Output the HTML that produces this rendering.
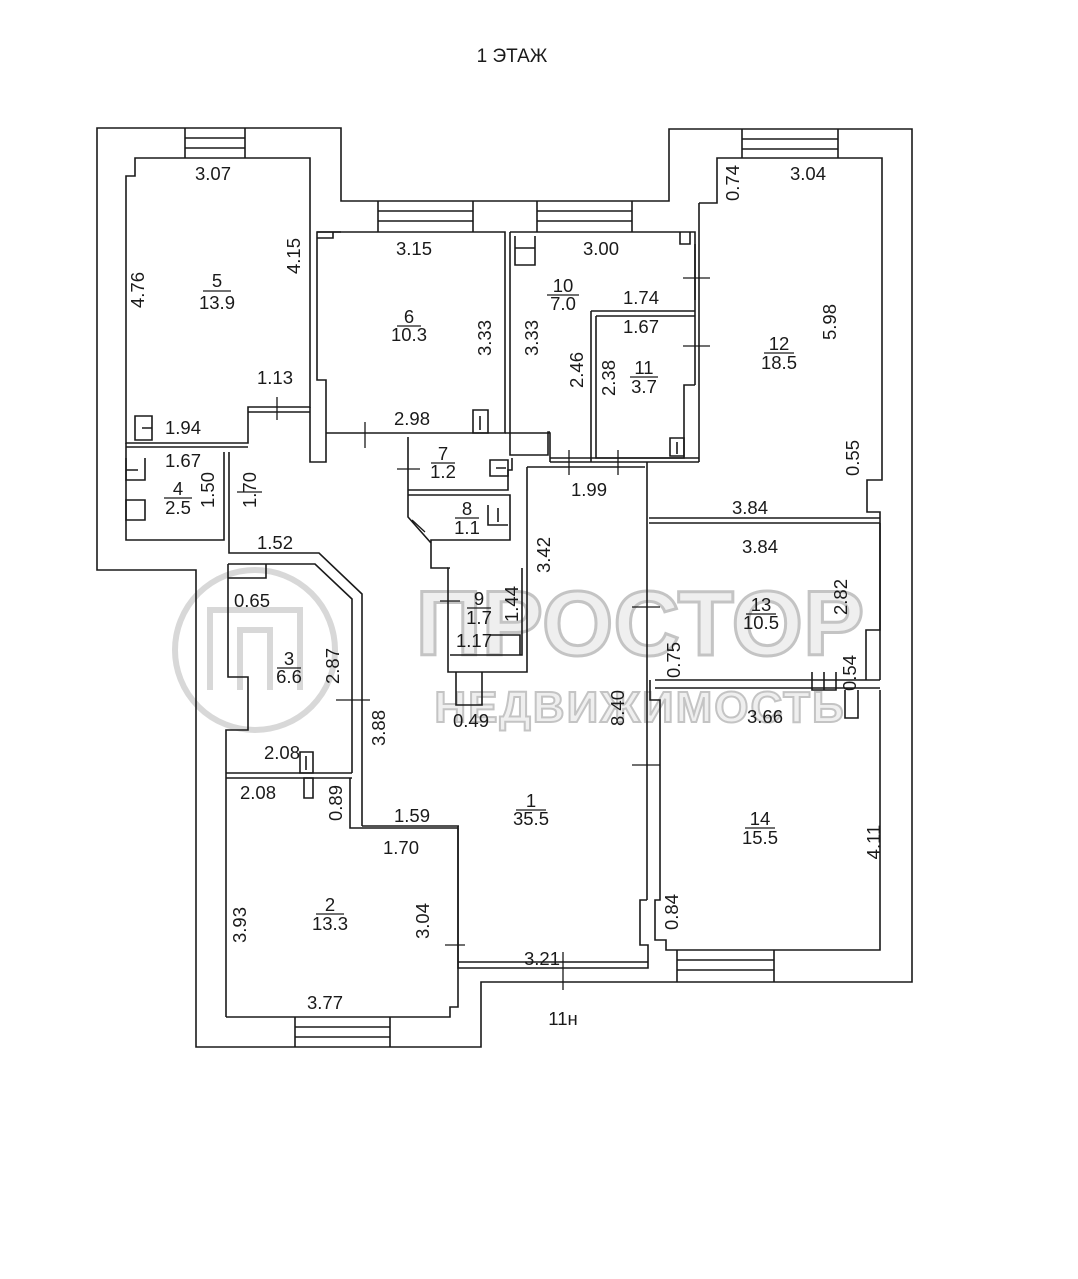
<!DOCTYPE html>
<html><head><meta charset="utf-8"><style>
html,body{margin:0;padding:0;background:#fff;}
svg{display:block;}
text{font-family:"Liberation Sans",sans-serif;fill:#1a1a1a;}
.d{font-size:18.5px;text-anchor:middle;}
</style></head><body>
<svg width="1078" height="1279" viewBox="0 0 1078 1279" xmlns="http://www.w3.org/2000/svg">
<rect width="1078" height="1279" fill="#fff"/>
<!-- watermark -->
<g fill="none" stroke="#cfcfcf" stroke-width="6" opacity="0.8">
<circle cx="255" cy="650" r="80"/>
<path d="M210 690 V610 H300 V690 M240 690 V630 H270 V690"/>
</g>
<text x="640" y="655" font-size="92" text-anchor="middle" stroke="#c4c4c4" stroke-width="3" style="font-family:'Liberation Sans',sans-serif;font-weight:bold;fill:#efefef">ПРОСТОР</text>
<text x="640" y="722" font-size="44" text-anchor="middle" stroke="#c4c4c4" stroke-width="2" style="font-family:'Liberation Sans',sans-serif;font-weight:bold;fill:#efefef;letter-spacing:2px">НЕДВИЖИМОСТЬ</text>

<g fill="none" stroke="#1a1a1a" stroke-width="1.6">
<path d="M97 128 H341 V201 H669 V129 H912 V982 H481 V1047 H196 V570 H97 Z"/>
<path d="M185 128 V158 M245 128 V158 M185 138 H245 M185 148 H245"/>
<path d="M378 201 V232 M473 201 V232 M378 211 H473 M378 221 H473"/>
<path d="M537 201 V232 M632 201 V232 M537 211 H632 M537 221 H632"/>
<path d="M742 129 V158 M838 129 V158 M742 139 H838 M742 149 H838"/>
<path d="M295 1017 V1047 M390 1017 V1047 M295 1027 H390 M295 1037 H390"/>
<path d="M677 950 V982 M774 950 V982 M677 960 H774 M677 970 H774"/>
<path d="M135 158 H310 V407 H248 V443 H126 V176 H135 Z"/>
<path d="M310 407 V462 H326 V380 H317 V232 H341"/>
<path d="M248 412 H310 M135 416 V440 H152 V416 Z M152 428 H142"/>
<path d="M317 232 H505 V433 H326 M505 232 V433 M510 232 V433 M510 232 H695 V300"/>
<path d="M317 238 H333 V232" />
<path d="M473 410 V433 H488 V410 Z M480 416 V430"/>
<path d="M515 236 V265 H535 V236 M515 248 H535"/>
<path d="M680 232 V244 H690 V232"/>
<path d="M591 311 H695 M596 316 H695 M591 311 V462 M596 316 V458 H684 V385 H695 M695 244 V385"/>
<path d="M670 438 V456 H684 V438 Z M677 442 V454"/>
<path d="M550 432 H548 V455 H510 V433 M505 433 H550 V462 M550 458 H699 M550 462 H699"/>
<path d="M699 203 H717 V158 H882 V480 H867 V512 H880 V680"/>
<path d="M699 203 V462 M647 462 V900"/>
<path d="M649 518 H880 M649 523 H880"/>
<path d="M126 443 V540 H224 V452 M229 452 V553 H319 L362 594 V826"/>
<path d="M126 447 H248 M229 447 H248"/>
<path d="M126 458 V480 H145 V458 M126 470 H138 M126 500 V520 H145 V500 Z"/>
<path d="M228 564 H315 L352 599 V773 M228 564 V677 H248 V730 H226 V1017"/>
<path d="M228 578 H266 V564"/>
<path d="M226 773 H352 M226 778 H352"/>
<path d="M300 752 V773 H313 V752 Z M306 756 V770"/>
<path d="M304 778 V798 H313 V778 Z"/>
<path d="M350 778 V828 H458 V1007 H450 V1017 H226 M362 826 H459"/>
<path d="M458 826 V968 H648 V945 H640 V900 H647"/>
<path d="M458 962 H648 M527 467 H645 M527 467 V672 H448 V568 H450 M522 568 V655 H450"/>
<path d="M456 672 V705 H482 V672 M490 635 H520 V655"/>
<path d="M408 437 V490 H508 V470 H512 V458 M408 495 H510 V540 H431 V568 H448 M408 490 V517 L431 543"/>
<path d="M490 460 V476 H508 V460 Z M496 468 H506"/>
<path d="M488 505 V525 H508 M498 508 V522"/>
<path d="M880 523 V630 H866 V680"/>
<path d="M655 680 H880 M655 688 H880"/>
<path d="M650 680 V700 H660 V900 H655 V940 H666 V950 H880 V690"/>
<path d="M812 672 V690 H836 V672 M824 672 V690 M845 690 V718 H858 V690"/>
</g>
<g stroke="#1a1a1a" stroke-width="1.3">
<path d="M277 397 V420 M365 422 V448 M397 469 H420 M412 520 L425 532 M440 601 H460 M569 450 V475 M618 450 V475 M683 278 H710 M683 346 H710 M632 607 H660 M336 700 H370 M632 765 H660 M445 945 H465 M563 952 V990 M237 492 H262"/>
</g>

<text x="512" y="62" font-size="19" text-anchor="middle">1 ЭТАЖ</text>
<g class="d">
<text class="d" x="213" y="180">3.07</text>
<text class="d" x="414" y="255">3.15</text>
<text class="d" x="601" y="255">3.00</text>
<text class="d" x="808" y="180">3.04</text>
<text class="d" x="275" y="384">1.13</text>
<text class="d" x="183" y="434">1.94</text>
<text class="d" x="183" y="467">1.67</text>
<text class="d" x="275" y="549">1.52</text>
<text class="d" x="412" y="425">2.98</text>
<text class="d" x="641" y="304">1.74</text>
<text class="d" x="641" y="333">1.67</text>
<text class="d" x="589" y="496">1.99</text>
<text class="d" x="750" y="514">3.84</text>
<text class="d" x="760" y="553">3.84</text>
<text class="d" x="252" y="607">0.65</text>
<text class="d" x="474" y="647">1.17</text>
<text class="d" x="471" y="727">0.49</text>
<text class="d" x="765" y="723">3.66</text>
<text class="d" x="282" y="759">2.08</text>
<text class="d" x="258" y="799">2.08</text>
<text class="d" x="412" y="822">1.59</text>
<text class="d" x="401" y="854">1.70</text>
<text class="d" x="542" y="965">3.21</text>
<text class="d" x="325" y="1009">3.77</text>
<text class="d" x="563" y="1025">11н</text>
<text class="d" transform="translate(144,290) rotate(-90)">4.76</text>
<text class="d" transform="translate(300,256) rotate(-90)">4.15</text>
<text class="d" transform="translate(491,338) rotate(-90)">3.33</text>
<text class="d" transform="translate(538,338) rotate(-90)">3.33</text>
<text class="d" transform="translate(583,370) rotate(-90)">2.46</text>
<text class="d" transform="translate(615,378) rotate(-90)">2.38</text>
<text class="d" transform="translate(739,183) rotate(-90)">0.74</text>
<text class="d" transform="translate(836,322) rotate(-90)">5.98</text>
<text class="d" transform="translate(859,458) rotate(-90)">0.55</text>
<text class="d" transform="translate(214,490) rotate(-90)">1.50</text>
<text class="d" transform="translate(256,490) rotate(-90)">1.70</text>
<text class="d" transform="translate(550,555) rotate(-90)">3.42</text>
<text class="d" transform="translate(518,604) rotate(-90)">1.44</text>
<text class="d" transform="translate(624,708) rotate(-90)">8.40</text>
<text class="d" transform="translate(339,666) rotate(-90)">2.87</text>
<text class="d" transform="translate(385,728) rotate(-90)">3.88</text>
<text class="d" transform="translate(342,803) rotate(-90)">0.89</text>
<text class="d" transform="translate(246,925) rotate(-90)">3.93</text>
<text class="d" transform="translate(429,921) rotate(-90)">3.04</text>
<text class="d" transform="translate(847,597) rotate(-90)">2.82</text>
<text class="d" transform="translate(680,660) rotate(-90)">0.75</text>
<text class="d" transform="translate(856,673) rotate(-90)">0.54</text>
<text class="d" transform="translate(880,842) rotate(-90)">4.11</text>
<text class="d" transform="translate(678,912) rotate(-90)">0.84</text>
<text x="217" y="287">5</text><text x="217" y="309">13.9</text>
<text x="409" y="323">6</text><text x="409" y="341">10.3</text>
<text x="563" y="292">10</text><text x="563" y="310">7.0</text>
<text x="644" y="374">11</text><text x="644" y="393">3.7</text>
<text x="779" y="350">12</text><text x="779" y="369">18.5</text>
<text x="178" y="495">4</text><text x="178" y="514">2.5</text>
<text x="443" y="460">7</text><text x="443" y="478">1.2</text>
<text x="467" y="515">8</text><text x="467" y="534">1.1</text>
<text x="479" y="605">9</text><text x="479" y="624">1.7</text>
<text x="289" y="665">3</text><text x="289" y="683">6.6</text>
<text x="761" y="611">13</text><text x="761" y="629">10.5</text>
<text x="531" y="807">1</text><text x="531" y="825">35.5</text>
<text x="330" y="911">2</text><text x="330" y="930">13.3</text>
<text x="760" y="825">14</text><text x="760" y="844">15.5</text>
</g>
<g stroke="#1a1a1a" stroke-width="1.2">
<path d="M203 291 H231 M397 326 H421 M547 295 H579 M630 377 H658 M764 353 H794 M164 498 H192 M431 463 H455 M455 518 H479 M467 608 H491 M277 668 H301 M746 614 H776 M516 810 H546 M316 914 H344 M745 828 H775"/>
</g>
</svg>
</body></html>
